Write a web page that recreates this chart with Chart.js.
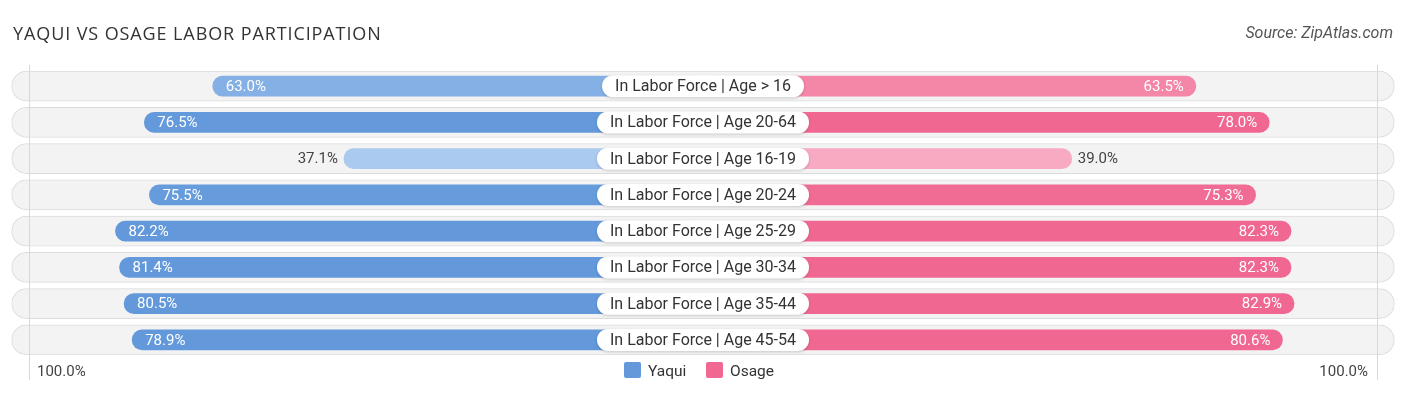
<!DOCTYPE html>
<html>
<head>
<meta charset="utf-8">
<script src="https://cdn.jsdelivr.net/npm/chart.js@4.4.1/dist/chart.umd.min.js"></script>
<style>
  html, body { margin: 0; padding: 0; background: #fff; }
  canvas { display: block; }
</style>
</head>
<body>
<canvas id="laborChart" width="1406" height="395"></canvas>
<script>
const chartTitle = 'YAQUI VS OSAGE LABOR PARTICIPATION';
const sourceText = 'Source: ZipAtlas.com';
const categories = [
  'In Labor Force | Age > 16',
  'In Labor Force | Age 20-64',
  'In Labor Force | Age 16-19',
  'In Labor Force | Age 20-24',
  'In Labor Force | Age 25-29',
  'In Labor Force | Age 30-34',
  'In Labor Force | Age 35-44',
  'In Labor Force | Age 45-54'
];
const seriesNames = ['Yaqui', 'Osage'];
const yaqui = [63.0, 76.5, 37.1, 75.5, 82.2, 81.4, 80.5, 78.9];
const osage = [63.5, 78.0, 39.0, 75.3, 82.3, 82.3, 82.9, 80.6];
const axisEndLabel = '100.0%';

const LABEL_GAP = 33.8;   // room left free around the centre label, in % units
const X_MAX = 138.8;
const ROW_EDGE = 136.5;
const GRID_AT = 133;

const BLUE = [99, 153, 219], BLUE_LIGHT = [172, 203, 240];
const PINK = [240, 104, 146], PINK_LIGHT = [248, 172, 196];

const mix = (a, b, t) => 'rgb(' + a.map((c, i) => Math.round(c + (b[i] - c) * t)).join(',') + ')';
const shade = (values, light, strong) => (ctx) => {
  const v = values[ctx.dataIndex];
  const t = Math.pow(Math.min(1, Math.max(0, (v - 35) / 42)), 1.5);
  return mix(light, strong, t);
};

function roundRect(ctx, x, y, w, h, r) {
  ctx.beginPath();
  ctx.moveTo(x + r, y);
  ctx.arcTo(x + w, y, x + w, y + h, r);
  ctx.arcTo(x + w, y + h, x, y + h, r);
  ctx.arcTo(x, y + h, x, y, r);
  ctx.arcTo(x, y, x + w, y, r);
  ctx.closePath();
}

const overlay = {
  id: 'overlay',
  afterDatasetsDraw(chart) {
    const ctx = chart.ctx;
    const xs = chart.scales.x, ys = chart.scales.y;
    const cx = xs.getPixelForValue(0);

    // faint 100% guide lines
    ctx.save();
    ctx.strokeStyle = '#d8d8d8';
    ctx.lineWidth = 1;
    [-GRID_AT, GRID_AT].forEach(v => {
      const x = Math.round(xs.getPixelForValue(v)) + 0.5;
      ctx.beginPath();
      ctx.moveTo(x, 65);
      ctx.lineTo(x, 380);
      ctx.stroke();
    });
    ctx.restore();

    categories.forEach((label, i) => {
      const y = ys.getPixelForValue(i);

      // centre label pill
      ctx.save();
      ctx.font = '16px Roboto';
      const tw = ctx.measureText(label).width;
      const w = tw + 26, h = 22;
      ctx.shadowColor = 'rgba(0,0,0,0.18)';
      ctx.shadowBlur = 3;
      ctx.shadowOffsetY = 1;
      ctx.fillStyle = '#fff';
      roundRect(ctx, cx - w / 2, y - h / 2, w, h, h / 2);
      ctx.fill();
      ctx.restore();

      ctx.save();
      ctx.font = '16px Roboto';
      ctx.fillStyle = '#333';
      ctx.textAlign = 'center';
      ctx.textBaseline = 'middle';
      ctx.fillText(label, cx, y + 1);

      // value labels
      ctx.font = '15px Roboto';
      const yv = yaqui[i], ov = osage[i];
      const left = xs.getPixelForValue(-(yv + LABEL_GAP));
      const right = xs.getPixelForValue(ov + LABEL_GAP);
      if (yv >= 50) {
        ctx.fillStyle = '#fff'; ctx.textAlign = 'left';
        ctx.fillText(yv.toFixed(1) + '%', left + 13, y + 1);
      } else {
        ctx.fillStyle = '#444'; ctx.textAlign = 'right';
        ctx.fillText(yv.toFixed(1) + '%', left - 6, y + 1);
      }
      if (ov >= 50) {
        ctx.fillStyle = '#fff'; ctx.textAlign = 'right';
        ctx.fillText(ov.toFixed(1) + '%', right - 12, y + 1);
      } else {
        ctx.fillStyle = '#444'; ctx.textAlign = 'left';
        ctx.fillText(ov.toFixed(1) + '%', right + 6, y + 1);
      }
      ctx.restore();
    });
  },
  afterDraw(chart) {
    const ctx = chart.ctx;
    ctx.save();
    ctx.fillStyle = '#333';
    ctx.font = '18px "Open Sans"';
    ctx.letterSpacing = '0.9px';
    ctx.textBaseline = 'alphabetic';
    ctx.fillText(chartTitle, 13, 40);
    ctx.letterSpacing = '0px';

    ctx.font = 'italic 16px Roboto';
    ctx.fillStyle = '#555';
    ctx.textAlign = 'right';
    ctx.fillText(sourceText, 1393, 38);

    // axis end labels
    ctx.font = '15px Roboto';
    ctx.fillStyle = '#444';
    ctx.textAlign = 'left';
    ctx.fillText(axisEndLabel, 37, 376);
    ctx.textAlign = 'right';
    ctx.fillText(axisEndLabel, 1368, 376);

    // legend
    const items = [
      { name: seriesNames[0], color: mix(BLUE, BLUE, 0), x: 624 },
      { name: seriesNames[1], color: mix(PINK, PINK, 0), x: 706 }
    ];
    ctx.textAlign = 'left';
    ctx.font = '15.5px Roboto';
    items.forEach(it => {
      ctx.fillStyle = it.color;
      roundRect(ctx, it.x, 362, 17, 16, 2);
      ctx.fill();
      ctx.fillStyle = '#333';
      ctx.fillText(it.name, it.x + 24, 376);
    });
    ctx.restore();
  }
};

new Chart(document.getElementById('laborChart'), {
  type: 'bar',
  data: {
    labels: categories,
    datasets: [
      {
        label: seriesNames[0],
        data: yaqui.map(v => [-(v + LABEL_GAP), 0]),
        backgroundColor: shade(yaqui, BLUE_LIGHT, BLUE),
        barThickness: 20,
        borderRadius: 10,
        borderSkipped: false,
        grouped: false,
        order: 1
      },
      {
        label: seriesNames[1],
        data: osage.map(v => [0, v + LABEL_GAP]),
        backgroundColor: shade(osage, PINK_LIGHT, PINK),
        barThickness: 20,
        borderRadius: 10,
        borderSkipped: false,
        grouped: false,
        order: 1
      },
      {
        label: 'row',
        data: categories.map(() => [-ROW_EDGE, ROW_EDGE]),
        backgroundColor: '#f3f3f3',
        borderColor: '#dcdcdc',
        borderWidth: 1,
        barThickness: 30,
        borderRadius: 15,
        borderSkipped: false,
        grouped: false,
        order: 2
      }
    ]
  },
  options: {
    indexAxis: 'y',
    responsive: false,
    animation: false,
    layout: { padding: { top: 68, bottom: 37, left: 0, right: 0 } },
    scales: {
      x: { type: 'linear', min: -X_MAX, max: X_MAX, display: false },
      y: { display: false }
    },
    plugins: {
      legend: { display: false },
      tooltip: { enabled: false }
    }
  },
  plugins: [overlay]
});
</script>
</body>
</html>
